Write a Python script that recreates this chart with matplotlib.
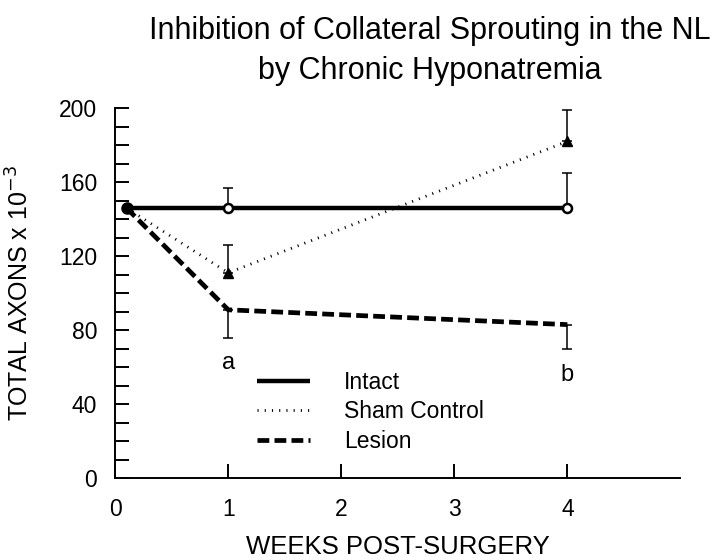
import matplotlib
matplotlib.use("Agg")
import matplotlib.pyplot as plt
from matplotlib.ticker import MultipleLocator

# ------------------------------------------------------------
# DATA
# ------------------------------------------------------------

weeks = [0.1, 1, 4]

intact = [146, 146, 146]
intact_err = [0, 11, 19]

sham = [146, 111, 182]
sham_err = [0, 15, 17]

lesion = [146, 91, 83]
lesion_err = [0, 15, 13]

x_ticks = [0, 1, 2, 3, 4]
y_ticks = [0, 40, 80, 120, 160, 200]

sig_labels = ["a", "b"]
sig_x = [1, 4]
sig_y = [62, 56]

# ------------------------------------------------------------
# PLOT
# ------------------------------------------------------------

plt.rcParams["font.family"] = ["Liberation Sans", "DejaVu Sans"]

fig = plt.figure(figsize=(7.2, 5.6), dpi=100)
ax = fig.add_axes([0.160, 0.146, 0.785, 0.661])

ax.plot(weeks, intact, color="black", lw=3.2, solid_capstyle="butt",
        label="Intact", zorder=3)
ax.plot(weeks[1:], intact[1:], "o", color="black", mfc="white", mew=1.8,
        ms=6.5, zorder=5)
ax.errorbar(weeks[1:], intact[1:], yerr=[[0, 0], intact_err[1:]], fmt="none",
            ecolor="black", elinewidth=1.1, capsize=3.5, capthick=1.1, zorder=2)

ax.plot(weeks, sham, color="black", lw=2.0, ls=(0, (0.4, 2.2)),
        label="Sham Control", zorder=3)
ax.plot(weeks[1:], sham[1:], "^", color="black", ms=7.5, zorder=5)
ax.errorbar(weeks[1:], sham[1:], yerr=[[0, 0], sham_err[1:]], fmt="none",
            ecolor="black", elinewidth=1.1, capsize=3.5, capthick=1.1, zorder=2)

ax.plot(weeks, lesion, color="black", lw=3.4, ls=(0, (2.5, 1.1)),
        label="Lesion", zorder=3)
ax.errorbar(weeks[1:], lesion[1:], yerr=[lesion_err[1:], [0, 0]], fmt="none",
            ecolor="black", elinewidth=1.1, capsize=3.5, capthick=1.1, zorder=2)

ax.plot(weeks[0], intact[0], "o", color="black", ms=8, zorder=6)

for lab, x, y in zip(sig_labels, sig_x, sig_y):
    ax.text(x, y, lab, ha="center", va="center", fontsize=17)

ax.set_xlim(0, 5)
ax.set_ylim(0, 200)
ax.set_xticks(x_ticks)
ax.set_yticks(y_ticks)
ax.yaxis.set_minor_locator(MultipleLocator(10))

ax.spines["top"].set_visible(False)
ax.spines["right"].set_visible(False)
for sp in ["left", "bottom"]:
    ax.spines[sp].set_linewidth(1.4)

ax.tick_params(axis="both", which="both", direction="in", width=1.4,
               labelsize=16.5)
ax.tick_params(axis="y", which="both", length=10, pad=13)
ax.tick_params(axis="x", which="major", length=10, pad=14)

ax.set_xlabel("WEEKS POST-SURGERY", fontsize=18.5, labelpad=10)
ax.set_ylabel("TOTAL AXONS x 10$^{-3}$", fontsize=18, labelpad=18)

leg = ax.legend(loc="upper left", bbox_to_anchor=(0.251, 0.29), frameon=False,
                fontsize=16.5, handlelength=2.3, handletextpad=1.5,
                labelspacing=0.28, borderpad=0, borderaxespad=0)

fig.suptitle("Inhibition of Collateral Sprouting in the NL\nby Chronic Hyponatremia",
             x=0.597, y=0.972, fontsize=22, linespacing=1.45)

fig.savefig("out.png", dpi=100)
